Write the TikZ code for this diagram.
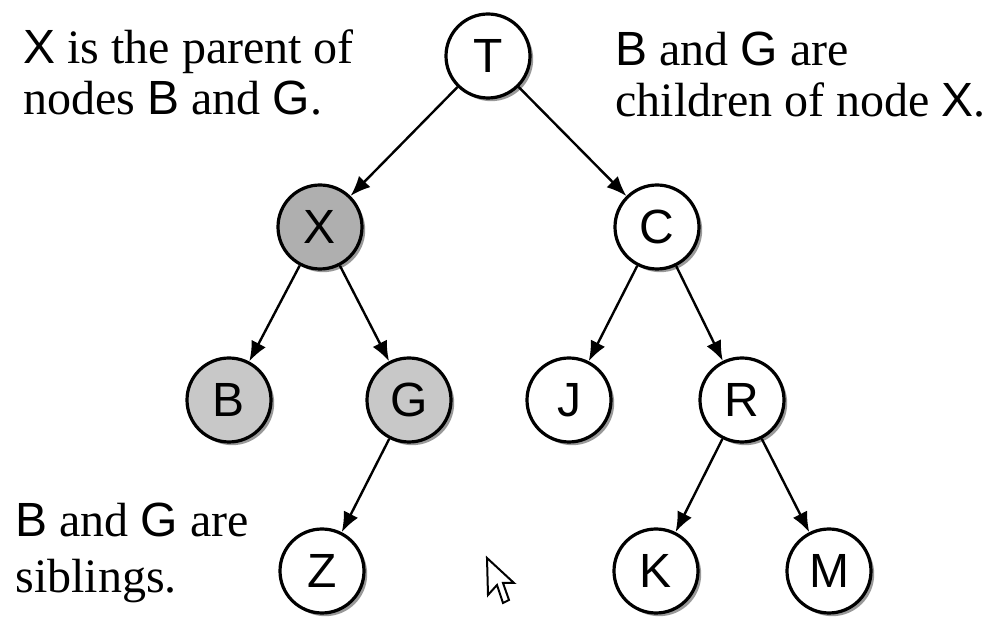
\documentclass[tikz,border=0pt]{standalone}
\usepackage{fontspec}
\setmainfont{Liberation Serif}
\newfontfamily\arialf{Liberation Sans}
\usetikzlibrary{arrows.meta,shadows}
\newcommand{\sv}[1]{{\arialf #1}}
\definecolor{darkfill}{RGB}{175,175,175}
\definecolor{lightfill}{RGB}{200,200,200}
\begin{document}
\begin{tikzpicture}[x=0.5pt,y=-0.5pt,
  tnode/.style={circle,draw=black,line width=1.6pt,minimum size=42pt,inner sep=0pt,
    fill=white,font=\arialf\fontsize{24}{25}\selectfont,
    drop shadow={shadow xshift=1.6pt,shadow yshift=-1.6pt,fill=black,opacity=0.4}},
  conn/.style={line width=1.2pt,-{Latex[length=10pt,width=8pt]}},
  lbl/.style={anchor=base west,inner sep=0pt,font=\fontsize{24}{25}\selectfont}]
\useasboundingbox (0,0) rectangle (986,624);
\node[tnode] (T) at (488,56) {T};
\node[tnode,fill=darkfill] (X) at (320,227) {X};
\node[tnode] (C) at (657,227) {C};
\node[tnode,fill=lightfill] (B) at (229,400) {B};
\node[tnode,fill=lightfill] (G) at (409,400) {G};
\node[tnode] (J) at (569,400) {J};
\node[tnode] (R) at (742,400) {R};
\node[tnode] (Z) at (322,571) {Z};
\node[tnode] (K) at (656,571) {K};
\node[tnode] (M) at (829,571) {M};
\draw[conn] (T) -- (X);
\draw[conn] (T) -- (C);
\draw[conn] (X) -- (B);
\draw[conn] (X) -- (G);
\draw[conn] (C) -- (J);
\draw[conn] (C) -- (R);
\draw[conn] (G) -- (Z);
\draw[conn] (R) -- (K);
\draw[conn] (R) -- (M);
\node[lbl] (l1) at (23,64) {\sv{X} is the parent of};
\node[lbl] (l2) at (23,115) {nodes \sv{B} and \sv{G}.};
\node[lbl] (r1) at (615,66) {\sv{B} and \sv{G} are};
\node[lbl] (r2) at (615,117) {children of node \sv{X}.};
\node[lbl] (b1) at (15,537) {\sv{B} and \sv{G} are};
\node[lbl] (b2) at (15,593) {siblings.};
% mouse cursor
\draw[line width=1pt,line join=miter,fill=white]
  (487,558) -- (488,595) -- (497,585) -- (503,603) -- (509,600) -- (503,583) -- (514,583) -- cycle;
\end{tikzpicture}
\end{document}
